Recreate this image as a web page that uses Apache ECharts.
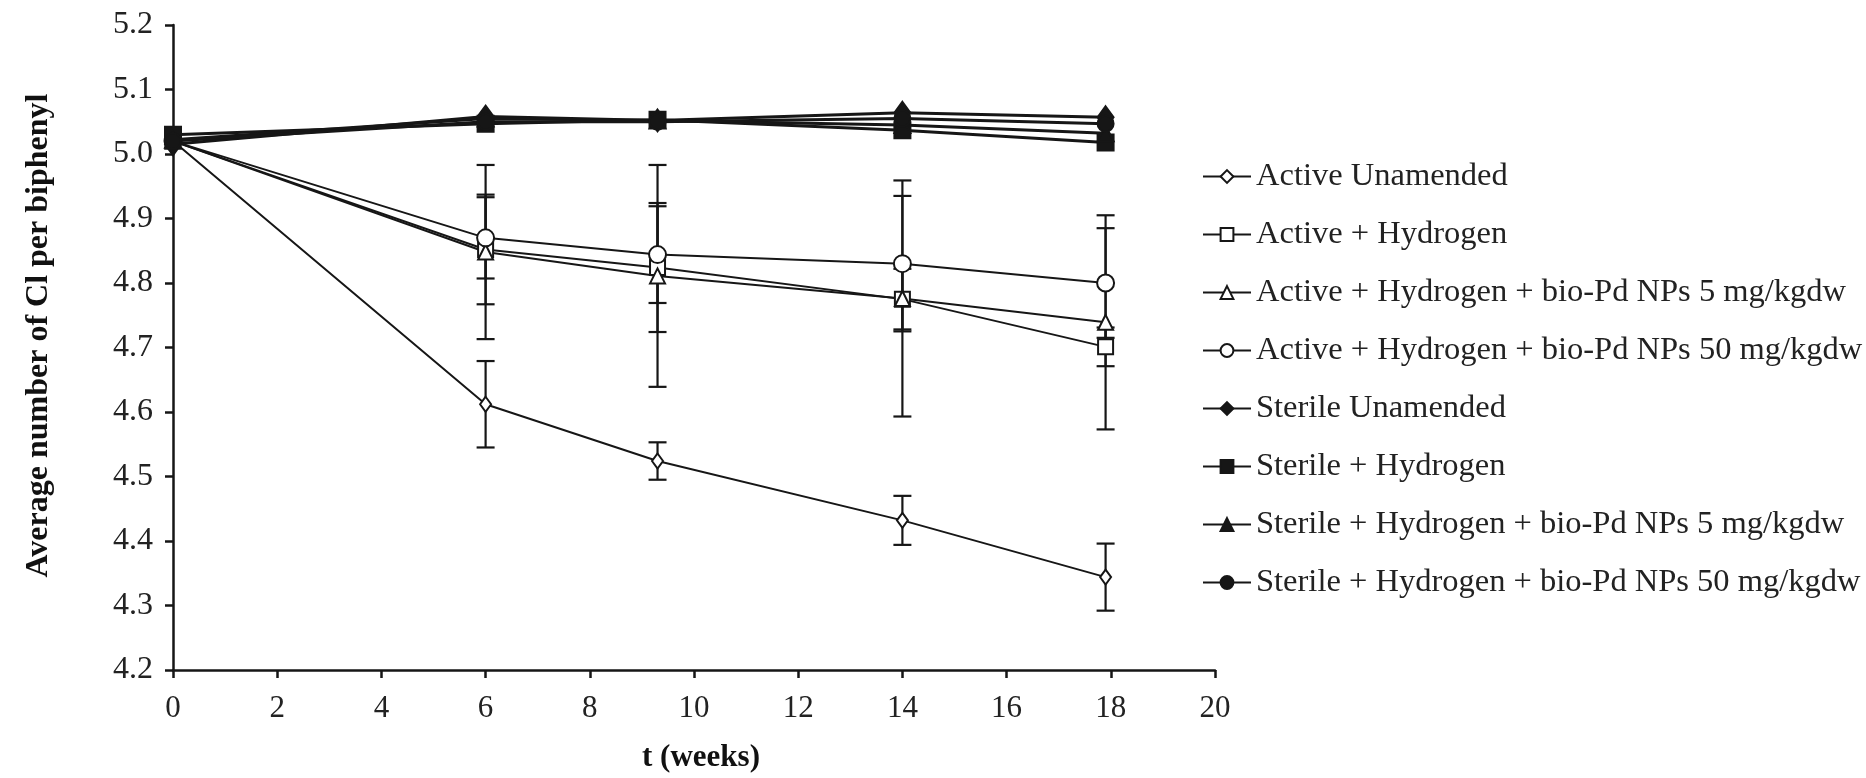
<!DOCTYPE html>
<html>
<head>
<meta charset="utf-8">
<script src="https://cdn.jsdelivr.net/npm/echarts@6/dist/echarts.min.js"></script>
<style>
html,body{margin:0;padding:0;background:#fff;}
#chart{width:1866px;height:778px;}
</style>
</head>
<body>
<div id="chart"></div>
<script>
// ---- data ----
const weeks = [0, 6, 9.3, 14, 17.9];
const xTicks = [0, 2, 4, 6, 8, 10, 12, 14, 16, 18, 20];
const yTicks = [4.2, 4.3, 4.4, 4.5, 4.6, 4.7, 4.8, 4.9, 5.0, 5.1, 5.2];

const activeUnamended = [5.02, 4.612, 4.524, 4.432, 4.344];
const activeUnamendedErr = [0, 0.067, 0.029, 0.038, 0.052];
const activeH2 = [5.02, 4.852, 4.824, 4.775, 4.701];
const activeH2Err = [0, 0.085, 0.100, 0.047, 0.030];
const activeH2Pd5 = [5.02, 4.848, 4.811, 4.776, 4.739];
const activeH2Pd5Err = [0, 0.135, 0.172, 0.183, 0.166];
const activeH2Pd50 = [5.02, 4.870, 4.844, 4.830, 4.800];
const activeH2Pd50Err = [0, 0.063, 0.075, 0.105, 0.085];

const sterileUnamended = [5.015, 5.058, 5.052, 5.064, 5.057];
const sterileH2 = [5.030, 5.047, 5.053, 5.037, 5.018];
const sterileH2Pd5 = [5.022, 5.055, 5.052, 5.045, 5.032];
const sterileH2Pd50 = [5.020, 5.050, 5.050, 5.055, 5.047];

const names = [
  'Active Unamended',
  'Active + Hydrogen',
  'Active + Hydrogen + bio-Pd NPs 5 mg/kgdw',
  'Active + Hydrogen + bio-Pd NPs 50 mg/kgdw',
  'Sterile Unamended',
  'Sterile + Hydrogen',
  'Sterile + Hydrogen + bio-Pd NPs 5 mg/kgdw',
  'Sterile + Hydrogen + bio-Pd NPs 50 mg/kgdw'
];

// ---- build ----
const INK = '#161616';
const FONT = '"Liberation Serif", "Times New Roman", serif';

function pts(vals){ return weeks.map((w,i)=>[w, vals[i]]); }
function errPts(vals, errs){
  const out = [];
  weeks.forEach((w,i)=>{ if (errs[i] > 0) out.push([w, vals[i]-errs[i], vals[i]+errs[i]]); });
  return out;
}

function lineSeries(name, vals, symbol, size, filled, width){
  return {
    name: name, type: 'line', data: pts(vals),
    symbol: symbol, symbolSize: size, showAllSymbol: true,
    lineStyle: {color: INK, width: width},
    itemStyle: {color: filled ? INK : '#fff', borderColor: INK, borderWidth: 2, opacity: 1},
    emphasis: {disabled: true},
    z: filled ? 4 : 3, animation: false
  };
}

function errSeries(vals, errs){
  return {
    name: 'err', type: 'custom', data: errPts(vals, errs), z: 2, animation: false,
    silent: true,
    encode: {x: 0, y: [1, 2]},
    renderItem: function(params, api){
      const x = api.value(0);
      const lo = api.coord([x, api.value(1)]);
      const hi = api.coord([x, api.value(2)]);
      const hw = 9;
      const st = {stroke: INK, lineWidth: 2.2};
      return {type: 'group', children: [
        {type: 'line', shape: {x1: lo[0], y1: lo[1], x2: hi[0], y2: hi[1]}, style: st},
        {type: 'line', shape: {x1: hi[0]-hw, y1: hi[1], x2: hi[0]+hw, y2: hi[1]}, style: st},
        {type: 'line', shape: {x1: lo[0]-hw, y1: lo[1], x2: lo[0]+hw, y2: lo[1]}, style: st}
      ]};
    }
  };
}

const series = [
  errSeries(activeUnamended, activeUnamendedErr),
  errSeries(activeH2, activeH2Err),
  errSeries(activeH2Pd5, activeH2Pd5Err),
  errSeries(activeH2Pd50, activeH2Pd50Err),
  lineSeries(names[0], activeUnamended, 'diamond', [11, 15], false, 2),
  lineSeries(names[1], activeH2, 'rect', 15, false, 2),
  lineSeries(names[2], activeH2Pd5, 'triangle', 15, false, 2),
  lineSeries(names[3], activeH2Pd50, 'circle', 17, false, 2),
  lineSeries(names[4], sterileUnamended, 'diamond', [16, 22], true, 3),
  lineSeries(names[5], sterileH2, 'rect', 16, true, 3),
  lineSeries(names[6], sterileH2Pd5, 'triangle', 16, true, 3),
  lineSeries(names[7], sterileH2Pd50, 'circle', 16, true, 3)
];

const chart = echarts.init(document.getElementById('chart'), null, {renderer: 'canvas'});
chart.setOption({
  backgroundColor: '#fff',
  animation: false,
  grid: {left: 173, right: 651, top: 25, bottom: 102, containLabel: false},
  legend: {
    data: names, orient: 'vertical', left: 1197, top: 155,
    itemWidth: 48, itemHeight: 16, itemGap: 25,
    textStyle: {fontFamily: FONT, fontSize: 32.5, color: '#222', lineHeight: 32.5},
    selectedMode: false
  },
  xAxis: {
    type: 'value', min: xTicks[0], max: xTicks[xTicks.length-1], interval: 2,
    name: 't (weeks)', nameLocation: 'middle', nameGap: 72,
    nameTextStyle: {fontFamily: FONT, fontSize: 31, fontWeight: 'bold', color: '#111', padding: [0,0,0,14]},
    axisLine: {show: true, onZero: false, lineStyle: {color: INK, width: 2.5}},
    axisTick: {show: true, inside: false, length: 8, lineStyle: {color: INK, width: 2.5}},
    axisLabel: {fontFamily: FONT, fontSize: 31, color: '#222', margin: 23},
    splitLine: {show: false}
  },
  yAxis: {
    type: 'value', min: yTicks[0], max: yTicks[yTicks.length-1], interval: 0.1,
    name: 'Average number of Cl per biphenyl', nameLocation: 'middle', nameGap: 118,
    nameTextStyle: {fontFamily: FONT, fontSize: 32, fontWeight: 'bold', color: '#111', padding: [0,0,0,24]},
    axisLine: {show: true, lineStyle: {color: INK, width: 2.5}},
    axisTick: {show: true, inside: false, length: 8, lineStyle: {color: INK, width: 2.5}},
    axisLabel: {fontFamily: FONT, fontSize: 32, color: '#222', margin: 20,
      formatter: function(v){ return v.toFixed(1); }},
    splitLine: {show: false}
  },
  series: series
});
</script>
</body>
</html>
